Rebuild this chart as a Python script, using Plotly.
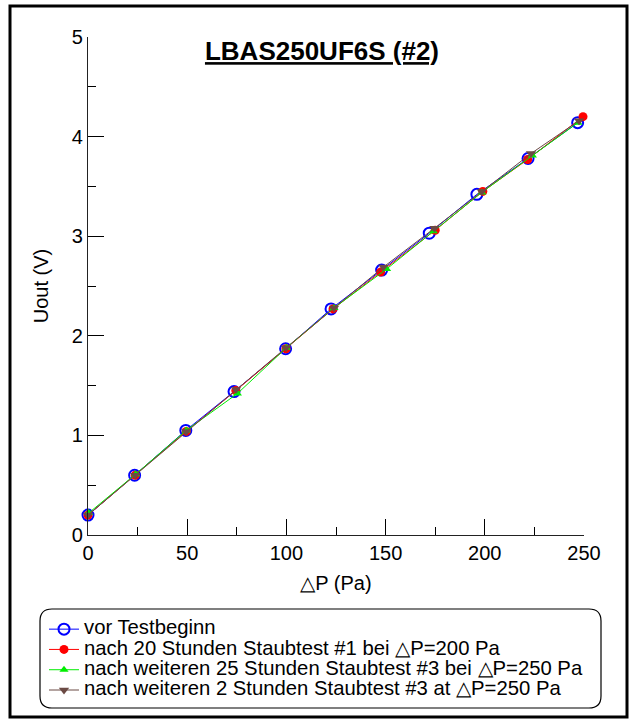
import plotly.graph_objects as go

# ---- data ----
names = [
    "vor Testbeginn",
    "nach 20 Stunden Staubtest #1 bei △P=200 Pa",
    "nach weiteren 25 Stunden Staubtest #3 bei △P=250 Pa",
    "nach weiteren 2 Stunden Staubtest #3 at △P=250 Pa",
]
x_vor = [0, 23.5, 49.3, 73.6, 99.6, 122.5, 148, 172, 196, 221.8, 246.8]
y_vor = [0.20, 0.60, 1.05, 1.44, 1.87, 2.27, 2.66, 3.03, 3.42, 3.78, 4.14]
x_20h = [0, 23.8, 49.5, 74.5, 99.8, 123.5, 147.5, 175, 199, 221.6, 249.5]
y_20h = [0.20, 0.60, 1.04, 1.45, 1.87, 2.27, 2.64, 3.06, 3.45, 3.77, 4.20]
x_25h = [0.3, 24, 49.5, 75.3, 100, 124, 150.5, 174, 198.5, 224, 247]
y_25h = [0.22, 0.61, 1.05, 1.42, 1.88, 2.28, 2.67, 3.05, 3.44, 3.81, 4.14]
x_2h = [0, 23.8, 49.5, 74.6, 99.8, 124, 148.9, 174.6, 198.5, 223.3, 247.5]
y_2h = [0.20, 0.60, 1.04, 1.46, 1.88, 2.28, 2.69, 3.08, 3.45, 3.83, 4.16]

x_ticks = [0, 50, 100, 150, 200, 250]
y_ticks = [0, 1, 2, 3, 4, 5]

title_text = "LBAS250UF6S (#2)"
x_title = "△P (Pa)"
y_title = "Uout (V)"

FONT = "Liberation Sans, Arial, sans-serif"

series = [
    (x_vor, y_vor, names[0], "#0000ff",
     dict(symbol="circle-open", size=11, line=dict(width=2, color="#0000ff"))),
    (x_20h, y_20h, names[1], "#ff0000",
     dict(symbol="circle", size=9, color="#ff0000")),
    (x_25h, y_25h, names[2], "#00ee00",
     dict(symbol="triangle-up", size=8, color="#00ee00")),
    (x_2h, y_2h, names[3], "#6b4a44",
     dict(symbol="triangle-down", size=9, color="#6b4a44")),
]

fig = go.Figure()
for xs, ys, nm, col, mk in series:
    fig.add_trace(go.Scatter(
        x=xs, y=ys, mode="lines+markers",
        name=f'<span style="font-size:20.3px">{nm}</span>',
        line=dict(color=col, width=1),
        marker=mk, cliponaxis=False,
    ))

W, H = 634, 724
L, R, T, B = 88, 50, 37, 189
pw, ph = W - L - R, H - T - B

def px(x):
    return (x - L) / pw

def py(y):
    return (H - B - y) / ph

# rounded legend box path (paper coords)
lx0, lx1, ly0, ly1 = px(40), px(601), py(708), py(609)
rx, ry = 12 / pw, 12 / ph
legend_path = (
    f"M {lx0+rx},{ly0} L {lx1-rx},{ly0} Q {lx1},{ly0} {lx1},{ly0+ry} "
    f"L {lx1},{ly1-ry} Q {lx1},{ly1} {lx1-rx},{ly1} "
    f"L {lx0+rx},{ly1} Q {lx0},{ly1} {lx0},{ly1-ry} "
    f"L {lx0},{ly0+ry} Q {lx0},{ly0} {lx0+rx},{ly0} Z"
)

fig.update_layout(
    width=W, height=H,
    margin=dict(l=L, r=R, t=T, b=B, autoexpand=False),
    paper_bgcolor="white", plot_bgcolor="white",
    font=dict(family=FONT, size=20, color="black"),
    title=dict(
        text=f"<b>{title_text}</b>",
        x=322 / W, xanchor="center",
        y=1 - 51 / H, yanchor="middle",
        font=dict(family=FONT, size=26, color="black", lineposition="under"),
    ),
    showlegend=True,
    legend=dict(
        x=px(44), y=py(614), xanchor="left", yanchor="top",
        bgcolor="rgba(0,0,0,0)", borderwidth=0,
        font=dict(family=FONT, size=13.3, color="black"),
        tracegroupgap=0,
    ),
    shapes=[
        dict(type="path", xref="paper", yref="paper", path=legend_path,
             line=dict(color="black", width=1.2), fillcolor="rgba(0,0,0,0)"),
        dict(type="rect", xref="paper", yref="paper",
             x0=px(10), x1=px(627), y0=py(717), y1=py(6),
             line=dict(color="black", width=3), fillcolor="rgba(0,0,0,0)"),
    ],
)

fig.update_xaxes(
    range=[0, 250], tickvals=x_ticks, ticktext=[str(v) for v in x_ticks],
    showline=True, linecolor="#222", linewidth=1.2, mirror=False,
    ticks="inside", ticklen=16, tickwidth=1.2, tickcolor="black",
    minor=dict(dtick=25, ticks="inside", ticklen=8, tickwidth=1.2, tickcolor="black"),
    showgrid=False, zeroline=False,
    tickfont=dict(family=FONT, size=20, color="black"),
    title=dict(text=x_title, standoff=12, font=dict(family=FONT, size=20, color="black")),
)
fig.update_yaxes(
    range=[0, 5], tickvals=y_ticks, ticktext=[str(v) for v in y_ticks],
    showline=True, linecolor="#222", linewidth=1.2, mirror=False,
    ticks="inside", ticklen=16, tickwidth=1.2, tickcolor="black",
    minor=dict(dtick=0.5, ticks="inside", ticklen=8, tickwidth=1.2, tickcolor="black"),
    showgrid=False, zeroline=False,
    tickfont=dict(family=FONT, size=20, color="black"),
    title=dict(text=y_title, standoff=17, font=dict(family=FONT, size=20, color="black")),
)

fig.write_html("out.html")
